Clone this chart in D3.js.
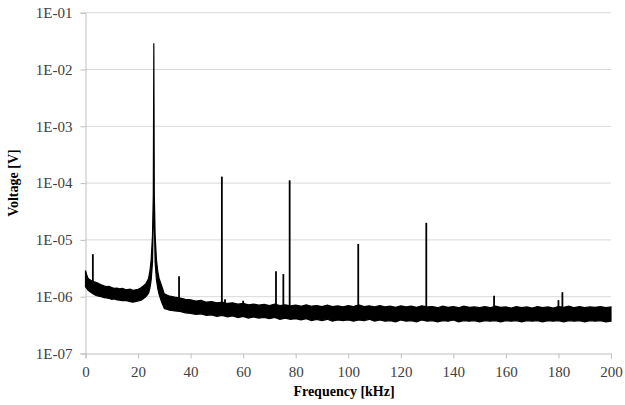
<!DOCTYPE html>
<html lang="en">
    <head>
        <meta charset="utf-8">
        <title>Voltage spectrum</title>
        <script type="text/javascript" src="https://cdn.jsdelivr.net/npm/d3@7"></script>
        <style type="text/css">
            body { margin: 0; background: #fff; }
        </style>
    </head>

    <body>
        <script type="text/javascript">
            // Noise floor envelope (kHz, upper V, lower V)
            var noiseFreq = [0, 0.5, 1, 2, 3, 4, 5, 6, 7, 8, 9, 10, 11, 12, 13, 14, 15, 16, 17, 18, 19, 20, 21, 22, 23, 24, 24.5, 25, 25.5, 25.8, 26, 26.2, 26.5, 27, 27.5, 28, 29,
                             30, 32, 34, 36, 38, 40, 42, 44, 46, 48, 50, 52, 54, 56, 58, 60, 62, 64, 66, 68, 70, 72, 74, 76, 78, 80, 82, 84, 86, 88, 90, 92, 94, 96, 98,
                             100, 102, 104, 106, 108, 110, 112, 114, 116, 118, 120, 122, 124, 126, 128, 130, 132, 134, 136, 138, 140, 142, 144, 146, 148,
                             150, 152, 154, 156, 158, 160, 162, 164, 166, 168, 170, 172, 174, 176, 178, 180, 182, 184, 186, 188, 190, 192, 194, 196, 198, 200];
            var noiseHigh = [2.9, 2.4, 2.1, 1.95, 1.85, 1.8, 1.7, 1.62, 1.55, 1.5, 1.52, 1.45, 1.4, 1.42, 1.38, 1.4, 1.35, 1.33, 1.36, 1.3, 1.32, 1.35, 1.42, 1.55, 1.7, 2.1, 2.8, 4.5, 12, 60, 29000, 60, 12, 4.5, 2.8, 2.1, 1.55,
                             1.12, 1.02, 0.98, 0.95, 0.90, 0.88, 0.84, 0.86, 0.80, 0.82, 0.78, 0.80, 0.76, 0.78, 0.74, 0.76, 0.72, 0.74, 0.71, 0.73, 0.70, 0.74, 0.70, 0.72, 0.69, 0.71, 0.68, 0.72, 0.68, 0.70, 0.67, 0.71, 0.67, 0.69, 0.66,
                             0.70, 0.67, 0.72, 0.67, 0.69, 0.66, 0.70, 0.66, 0.68, 0.65, 0.69, 0.66, 0.68, 0.65, 0.69, 0.66, 0.67, 0.64, 0.68, 0.65, 0.67, 0.64, 0.68, 0.65, 0.66,
                             0.64, 0.67, 0.64, 0.68, 0.65, 0.66, 0.63, 0.67, 0.64, 0.66, 0.63, 0.67, 0.64, 0.66, 0.63, 0.67, 0.65, 0.68, 0.64, 0.67, 0.64, 0.66, 0.65, 0.67, 0.64, 0.66];
            var noiseLow  = [1.5, 1.4, 1.3, 1.2, 1.12, 1.05, 1.02, 1.0, 0.96, 0.95, 0.93, 0.9, 0.91, 0.88, 0.87, 0.85, 0.86, 0.84, 0.82, 0.8, 0.82, 0.84, 0.86, 0.92, 1.0, 1.15, 1.4, 2.0, 4, 20, 29000, 20, 4, 2.0, 1.4, 1.1, 0.8,
                             0.62, 0.58, 0.56, 0.55, 0.52, 0.51, 0.49, 0.50, 0.47, 0.48, 0.45, 0.47, 0.44, 0.46, 0.43, 0.45, 0.42, 0.44, 0.42, 0.43, 0.41, 0.43, 0.40, 0.42, 0.40, 0.41, 0.39, 0.41, 0.38, 0.40, 0.38, 0.40, 0.37, 0.39, 0.38,
                             0.39, 0.37, 0.39, 0.38, 0.40, 0.37, 0.39, 0.37, 0.38, 0.36, 0.39, 0.37, 0.38, 0.36, 0.39, 0.37, 0.38, 0.36, 0.38, 0.37, 0.39, 0.36, 0.38, 0.37, 0.38,
                             0.36, 0.38, 0.37, 0.38, 0.36, 0.38, 0.37, 0.38, 0.36, 0.38, 0.37, 0.38, 0.36, 0.38, 0.37, 0.38, 0.36, 0.38, 0.37, 0.38, 0.36, 0.38, 0.37, 0.38, 0.36, 0.37];

            // Discrete spectral lines (kHz, peak µV, foot µV)
            var peakFreq = [2.8, 35.6, 51.9, 53.1, 60.0, 72.5, 75.3, 77.7, 103.8, 129.7, 155.5, 180.0, 181.5];
            var peakTop  = [5.6, 2.3, 130, 0.9, 0.85, 2.8, 2.5, 112, 8.5, 20, 1.04, 0.87, 1.2];
            var peakFoot = [1.5, 0.8, 0.6, 0.6, 0.6, 0.55, 0.55, 0.55, 0.5, 0.5, 0.5, 0.5, 0.5];

            var xTicks = [0, 20, 40, 60, 80, 100, 120, 140, 160, 180, 200];
            var yTicks = [1e-7, 1e-6, 1e-5, 1e-4, 1e-3, 1e-2, 1e-1];

            var w = 625;
            var h = 405;
            var plotLeft = 85.5, plotRight = 611, plotTop = 12.7, plotBottom = 353.5;
            var serif = "'Liberation Serif', 'Times New Roman', serif";
            var uV = 1e-6;

            var xScale = d3.scaleLinear().domain([0, 200]).range([plotLeft, plotRight]);
            var yScale = d3.scaleLog().domain([1e-7, 1e-1]).range([plotBottom, plotTop]);

            var svg = d3.select("body")
                        .append("svg")
                        .attr("width", w)
                        .attr("height", h);

            // horizontal gridlines
            svg.selectAll("line.grid")
                .data(yTicks.slice(1))
                .enter()
                .append("line")
                .attr("class", "grid")
                .attr("x1", plotLeft)
                .attr("x2", plotRight)
                .attr("y1", function(d) { return yScale(d); })
                .attr("y2", function(d) { return yScale(d); })
                .attr("stroke", "#d9d9d9")
                .attr("stroke-width", 1);

            // y axis
            var yAxis = d3.axisLeft(yScale)
                .tickValues(yTicks)
                .tickSize(5)
                .tickPadding(8)
                .tickFormat(function(d) {
                    var e = Math.round(Math.log10(d));
                    return "1E-" + d3.format("02d")(-e);
                });
            var gy = svg.append("g")
                .attr("transform", "translate(" + plotLeft + ",0)")
                .call(yAxis);
            gy.attr("font-family", null).attr("font-size", null);
            gy.select(".domain").attr("stroke", "#bfbfbf");
            gy.selectAll(".tick line").attr("stroke", "#bfbfbf");
            gy.selectAll(".tick text")
                .style("font-family", serif)
                .style("font-size", "15px")
                .attr("fill", "#404040");

            // x axis
            var xAxis = d3.axisBottom(xScale)
                .tickValues(xTicks)
                .tickSize(5)
                .tickPadding(8);
            var gx = svg.append("g")
                .attr("transform", "translate(0," + plotBottom + ")")
                .call(xAxis);
            gx.attr("font-family", null).attr("font-size", null);
            gx.select(".domain").attr("stroke", "#bfbfbf");
            gx.selectAll(".tick line").attr("stroke", "#bfbfbf");
            gx.selectAll(".tick text")
                .style("font-family", serif)
                .style("font-size", "15px")
                .attr("fill", "#404040");

            // noise floor band
            var band = noiseFreq.map(function(f, i) {
                return { f: f, hi: noiseHigh[i] * uV, lo: noiseLow[i] * uV };
            });
            var area = d3.area()
                .x(function(d) { return xScale(d.f); })
                .y0(function(d) { return yScale(d.lo); })
                .y1(function(d) { return yScale(d.hi); });
            svg.append("path")
                .datum(band)
                .attr("d", area)
                .attr("fill", "#000")
                .attr("stroke", "#000")
                .attr("stroke-width", 1.2)
                .attr("stroke-linejoin", "miter");

            // spectral lines
            svg.selectAll("line.peak")
                .data(peakFreq)
                .enter()
                .append("line")
                .attr("class", "peak")
                .attr("x1", function(d) { return xScale(d); })
                .attr("x2", function(d) { return xScale(d); })
                .attr("y1", function(d, i) { return yScale(peakTop[i] * uV); })
                .attr("y2", function(d, i) { return yScale(peakFoot[i] * uV); })
                .attr("stroke", "#000")
                .attr("stroke-width", 1.8);

            // axis titles
            svg.append("text")
                .text("Frequency [kHz]")
                .attr("x", 344)
                .attr("y", 396)
                .attr("text-anchor", "middle")
                .style("font-family", serif)
                .style("font-size", "14px")
                .style("font-weight", "bold")
                .attr("fill", "#000");

            svg.append("text")
                .text("Voltage [V]")
                .attr("transform", "translate(18," + ((plotTop + plotBottom) / 2) + ") rotate(-90)")
                .attr("text-anchor", "middle")
                .style("font-family", serif)
                .style("font-size", "14px")
                .style("font-weight", "bold")
                .attr("fill", "#000");
        </script>
    </body>
</html>
